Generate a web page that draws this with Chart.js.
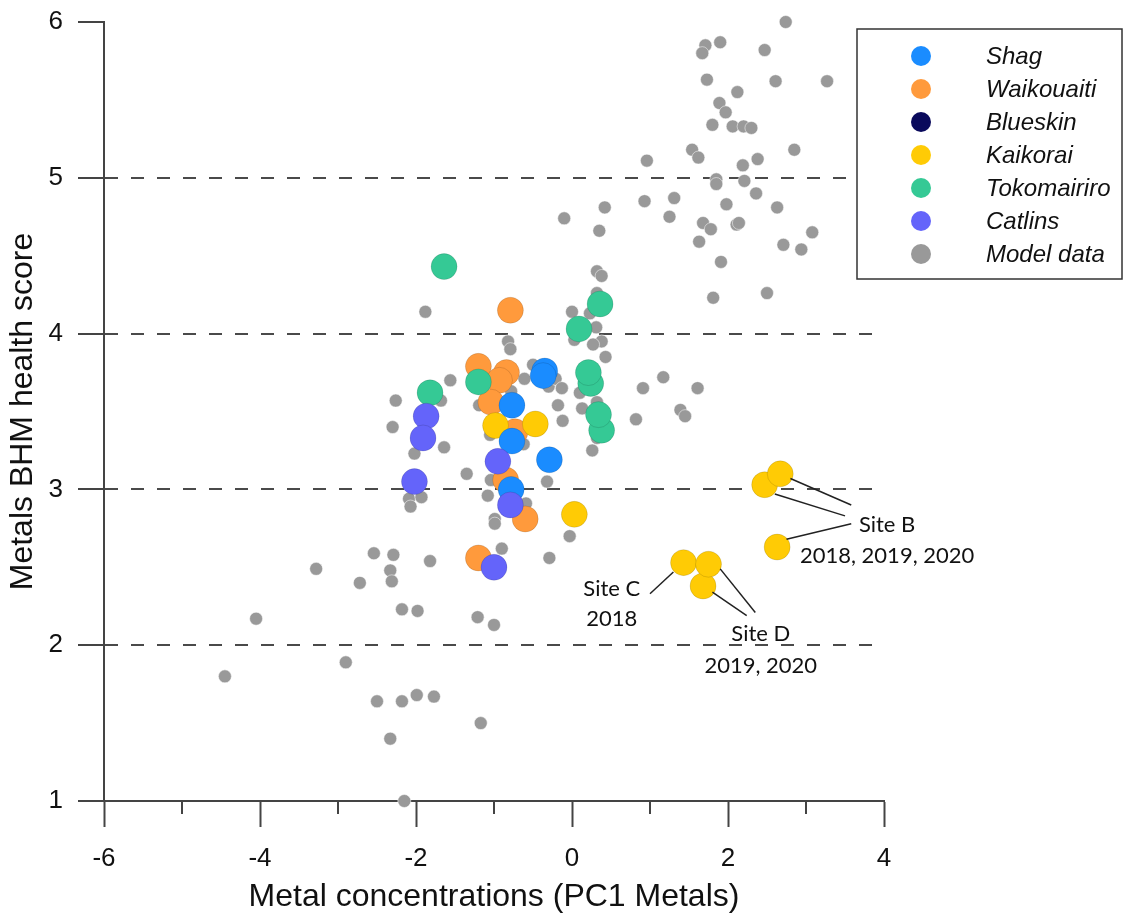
<!DOCTYPE html>
<html lang="en">
<head>
<meta charset="UTF-8">
<title>Metals BHM health score</title>
<script src="https://cdn.jsdelivr.net/npm/chart.js"></script>
<style>
  html, body { margin: 0; padding: 0; background: #fff; }
  canvas { display: block; }
</style>
</head>
<body>
<canvas id="bhmChart" width="1123" height="923"></canvas>
<script>
// axis ranges
const xRange = [-6, 4];
const yRange = [1, 6];

// site data [PC1 metals, BHM score]
const shag = [[-0.35, 3.76], [-0.37, 3.73], [-0.77, 3.54], [-0.77, 3.31], [-0.29, 3.19], [-0.78, 3.00]];
const waikouaiti = [[-0.79, 4.15], [-1.20, 3.79], [-0.84, 3.75], [-0.93, 3.70], [-1.04, 3.56], [-0.73, 3.37],
  [-0.85, 3.06], [-0.60, 2.81], [-1.20, 2.56]];
const blueskin = [];
const kaikorai = [[-0.98, 3.41], [-0.47, 3.42], [0.03, 2.84], [2.47, 3.03], [2.67, 3.10], [2.63, 2.63],
  [1.43, 2.53], [1.68, 2.38], [1.75, 2.52]];
const tokomairiro = [[-1.64, 4.43], [0.36, 4.19], [0.09, 4.03], [-1.20, 3.69], [-1.82, 3.62], [0.24, 3.68],
  [0.21, 3.75], [0.38, 3.38], [0.34, 3.48]];
const catlins = [[-1.87, 3.47], [-1.91, 3.33], [-2.02, 3.05], [-0.95, 3.18], [-0.79, 2.90], [-1.00, 2.50]];

// model data (grey)
const modelData = [
  [2.74, 6.00], [1.71, 5.85], [1.67, 5.80], [1.90, 5.87], [2.47, 5.82], [1.73, 5.63], [2.61, 5.62], [3.27, 5.62],
  [2.12, 5.55], [1.89, 5.48], [1.97, 5.42], [1.80, 5.34], [2.06, 5.33], [2.20, 5.33], [2.30, 5.32], [1.54, 5.18],
  [1.62, 5.13], [2.85, 5.18], [2.38, 5.12], [2.19, 5.08], [0.96, 5.11], [1.85, 4.99], [1.85, 4.96], [2.21, 4.98],
  [2.36, 4.90], [0.42, 4.81], [0.93, 4.85], [1.31, 4.87], [1.98, 4.83], [2.63, 4.81], [-0.10, 4.74], [0.35, 4.66],
  [1.25, 4.75], [1.68, 4.71], [1.78, 4.67], [2.11, 4.70], [2.14, 4.71], [1.63, 4.59], [2.71, 4.57], [2.94, 4.54],
  [3.08, 4.65], [1.91, 4.46], [1.81, 4.23], [2.50, 4.26], [0.32, 4.40], [0.38, 4.37], [0.00, 4.14], [0.32, 4.26],
  [0.23, 4.13], [-1.88, 4.14], [0.31, 4.04], [0.38, 3.95], [0.27, 3.93], [0.03, 3.96], [0.43, 3.85], [-0.82, 3.95],
  [-0.79, 3.90], [-0.61, 3.71], [-0.50, 3.80], [-0.30, 3.66], [-0.21, 3.71], [-0.13, 3.65], [-1.56, 3.70],
  [-2.26, 3.57], [-1.68, 3.57], [0.10, 3.62], [0.32, 3.56], [0.13, 3.52], [0.32, 3.33], [0.26, 3.25], [0.82, 3.45],
  [-0.18, 3.54], [-0.12, 3.44], [-1.19, 3.54], [-2.30, 3.40], [-1.64, 3.27], [-2.02, 3.23], [-1.05, 3.35],
  [-0.62, 3.29], [-1.35, 3.10], [-1.04, 3.06], [-0.32, 3.05], [-2.09, 2.94], [-2.07, 2.89], [-1.93, 2.95],
  [-1.08, 2.96], [-0.59, 2.91], [-0.99, 2.81], [-0.99, 2.78], [-0.03, 2.70], [-2.29, 2.58], [-1.82, 2.54],
  [-2.33, 2.48], [-2.31, 2.41], [-0.90, 2.62], [-0.29, 2.56], [-0.78, 3.63], [-2.54, 2.59], [-3.28, 2.49],
  [-2.72, 2.40], [-4.05, 2.17], [-2.18, 2.23], [-1.98, 2.22], [-1.21, 2.18], [-1.00, 2.13], [-2.90, 1.89],
  [-4.45, 1.80], [-2.50, 1.64], [-2.18, 1.64], [-1.99, 1.68], [-1.77, 1.67], [-1.17, 1.50], [-2.33, 1.40],
  [-2.15, 1.00], [0.91, 3.65], [1.17, 3.72], [1.61, 3.65], [1.39, 3.51], [1.45, 3.47]
];

// annotations: leader lines [x1, y1, x2, y2] and labels (data units)
const leaderLines = [
  [2.80, 3.07, 3.58, 2.90], [2.60, 2.97, 3.50, 2.83], [2.75, 2.68, 3.58, 2.78],
  [1.30, 2.47, 1.00, 2.33],
  [1.90, 2.49, 2.35, 2.21], [1.80, 2.34, 2.24, 2.19]
];
const siteLabels = [
  { lines: ['Site B', '2018, 2019, 2020'], x: 4.04, y: [2.77, 2.57] },
  { lines: ['Site C', '2018'], x: 0.51, y: [2.36, 2.17] },
  { lines: ['Site D', '2019, 2020'], x: 2.42, y: [2.07, 1.87] }
];

const toPts = arr => arr.map(p => ({ x: p[0], y: p[1] }));
const FONT = "'Liberation Sans', Arial, sans-serif";

function siteSet(label, data, color, order) {
  return {
    label: label, data: toPts(data), order: order,
    backgroundColor: color, borderColor: 'rgba(0,0,0,0.12)', borderWidth: 1,
    pointRadius: 13, pointHoverRadius: 13, clip: false
  };
}

const datasets = [
  siteSet('Shag', shag, '#1a8cff', 2),
  siteSet('Waikouaiti', waikouaiti, '#ff9a3c', 5),
  siteSet('Blueskin', blueskin, '#0a0a5c', 0),
  siteSet('Kaikorai', kaikorai, '#ffcb05', 4),
  siteSet('Tokomairiro', tokomairiro, '#35c995', 3),
  siteSet('Catlins', catlins, '#6464fa', 1),
  {
    label: 'Model data', data: toPts(modelData), order: 10,
    backgroundColor: '#999999', borderColor: 'rgba(255,255,255,0.5)', borderWidth: 1,
    pointRadius: 6.5, pointHoverRadius: 6.5, clip: false
  }
];

// short ticks for odd x values
const minorTicks = {
  id: 'minorTicks',
  afterDraw(chart) {
    const xs = chart.scales.x, ctx = chart.ctx, bottom = chart.chartArea.bottom;
    ctx.save();
    ctx.strokeStyle = '#444';
    ctx.lineWidth = 2;
    xs.ticks.forEach(t => {
      if (Math.abs(t.value % 2) === 1) {
        const px = xs.getPixelForValue(t.value);
        ctx.beginPath();
        ctx.moveTo(px, bottom);
        ctx.lineTo(px, bottom + 13);
        ctx.stroke();
      }
    });
    ctx.restore();
  }
};

// leader lines and site labels
const siteNotes = {
  id: 'siteNotes',
  afterDatasetsDraw(chart) {
    const xs = chart.scales.x, ys = chart.scales.y, ctx = chart.ctx;
    ctx.save();
    ctx.strokeStyle = '#222';
    ctx.lineWidth = 1.5;
    leaderLines.forEach(l => {
      ctx.beginPath();
      ctx.moveTo(xs.getPixelForValue(l[0]), ys.getPixelForValue(l[1]));
      ctx.lineTo(xs.getPixelForValue(l[2]), ys.getPixelForValue(l[3]));
      ctx.stroke();
    });
    ctx.fillStyle = '#111';
    ctx.font = "22px Lato, 'Open Sans', sans-serif";
    ctx.textAlign = 'center';
    ctx.textBaseline = 'middle';
    siteLabels.forEach(s => {
      s.lines.forEach((txt, i) => {
        ctx.fillText(txt, xs.getPixelForValue(s.x), ys.getPixelForValue(s.y[i]));
      });
    });
    ctx.restore();
  }
};

// boxed legend on the right
const boxLegend = {
  id: 'boxLegend',
  afterDraw(chart) {
    const ctx = chart.ctx;
    const left = 857, top = 29, right = 1122, bottom = 279;
    ctx.save();
    ctx.fillStyle = '#fff';
    ctx.fillRect(left, top, right - left, bottom - top);
    ctx.strokeStyle = '#333';
    ctx.lineWidth = 1.5;
    ctx.strokeRect(left, top, right - left, bottom - top);
    ctx.font = 'italic 24px ' + FONT;
    ctx.textBaseline = 'middle';
    ctx.textAlign = 'left';
    chart.data.datasets.forEach((ds, i) => {
      const y = 56 + i * 33;
      ctx.beginPath();
      ctx.arc(921, y, 10, 0, Math.PI * 2);
      ctx.fillStyle = ds.backgroundColor;
      ctx.fill();
      ctx.fillStyle = '#111';
      ctx.fillText(ds.label, 986, y + 1);
    });
    ctx.restore();
  }
};

new Chart(document.getElementById('bhmChart'), {
  type: 'scatter',
  data: { datasets: datasets },
  options: {
    responsive: false,
    animation: false,
    devicePixelRatio: 1,
    layout: { padding: { top: 22, right: 239, left: 0, bottom: 0 } },
    plugins: { legend: { display: false }, tooltip: { enabled: false } },
    scales: {
      x: {
        type: 'linear', position: 'bottom', min: xRange[0], max: xRange[1],
        afterFit: s => { s.height = 122; },
        ticks: {
          stepSize: 1, autoSkip: false, maxRotation: 0, padding: 16,
          callback: v => (v % 2 === 0 ? v : ''),
          font: { family: FONT, size: 26 }, color: '#111'
        },
        grid: {
          drawOnChartArea: false, tickLength: 26, tickWidth: 2,
          tickColor: c => (c.tick && c.tick.value % 2 === 0 ? '#444' : 'rgba(0,0,0,0)')
        },
        border: { color: '#444', width: 2 },
        title: {
          display: true, text: 'Metal concentrations (PC1 Metals)', color: '#111',
          font: { family: FONT, size: 32 }, padding: { top: 0, bottom: 7 }
        }
      },
      y: {
        type: 'linear', min: yRange[0], max: yRange[1],
        afterFit: s => { s.width = 104; s.paddingTop = 0; s.paddingBottom = 0; },
        ticks: {
          stepSize: 1, padding: 15,
          font: { family: FONT, size: 26 }, color: '#111'
        },
        grid: {
          drawOnChartArea: true, lineWidth: 2, tickLength: 26, tickWidth: 2, tickColor: '#444',
          color: c => (c.tick && c.tick.value > yRange[0] && c.tick.value < yRange[1] ? '#4a4a4a' : 'rgba(0,0,0,0)')
        },
        border: { color: '#444', width: 2, dash: [13, 13] },
        title: {
          display: true, text: 'Metals BHM health score', color: '#111',
          font: { family: FONT, size: 32 }, padding: { top: 4, bottom: 0 }
        }
      }
    }
  },
  plugins: [minorTicks, siteNotes, boxLegend]
});
</script>
</body>
</html>
